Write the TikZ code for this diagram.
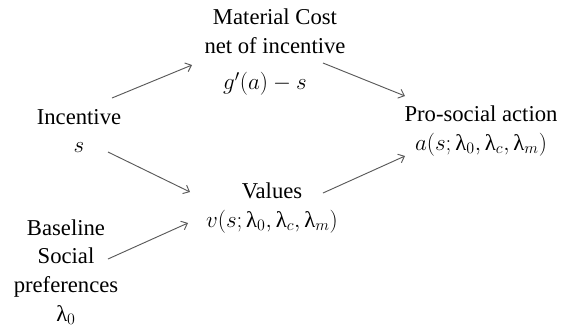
\documentclass[tikz,border=0pt]{standalone}
\usepackage{amsmath}
\usepackage{fontspec}
\setmainfont{LiberationSerif}[Extension=.ttf, UprightFont=*-Regular, ItalicFont=*-Italic, BoldFont=*-Bold, BoldItalicFont=*-BoldItalic]
\usepackage{tikz}
\usetikzlibrary{arrows.meta,positioning}

\begin{document}
\begin{tikzpicture}[x=0.75pt, y=-0.75pt, on grid, >={Straight Barb[length=4pt,width=7pt]},
    lbl/.style={align=center, inner sep=0pt, font=\fontsize{17}{21.5}\selectfont},
    arr/.style={->, draw=black!65, line width=0.7pt}]
    \useasboundingbox (0,0) rectangle (561,330);

    \node[lbl] (inc) at (79,131) {Incentive\\$s$};
    \node[lbl, below left=105.75pt and 9.75pt of inc] (base) {Baseline\\Social\\preferences\\$\text{λ}_0$};
    \node[lbl, above right=75pt and 147pt of inc] (cost) {Material Cost\\net of incentive};
    \node[lbl, below left=39.75pt and 7.5pt of cost] (gc) {$g'(a)-s$};
    \node[lbl, below right=57.75pt and 144.75pt of inc] (val) {Values\\$v(s;\text{λ}_0,\text{λ}_c,\text{λ}_m)$};
    \node[lbl, right=301.5pt of inc] (act) {Pro-social action\\$a(s;\text{λ}_0,\text{λ}_c,\text{λ}_m)$};

    \draw[arr] ([shift={(33,-33)}]inc.center) -- ([shift={(-83,34)}]cost.center);
    \draw[arr] ([shift={(48,32)}]cost.center) -- ([shift={(-76,-35)}]act.center);
    \draw[arr] ([shift={(29,21)}]inc.center) -- ([shift={(-82,-16)}]val.center);
    \draw[arr] ([shift={(42,-13)}]base.center) -- ([shift={(-84,15)}]val.center);
    \draw[arr] ([shift={(51,-15)}]val.center) -- ([shift={(-76,25)}]act.center);
\end{tikzpicture}
\end{document}
